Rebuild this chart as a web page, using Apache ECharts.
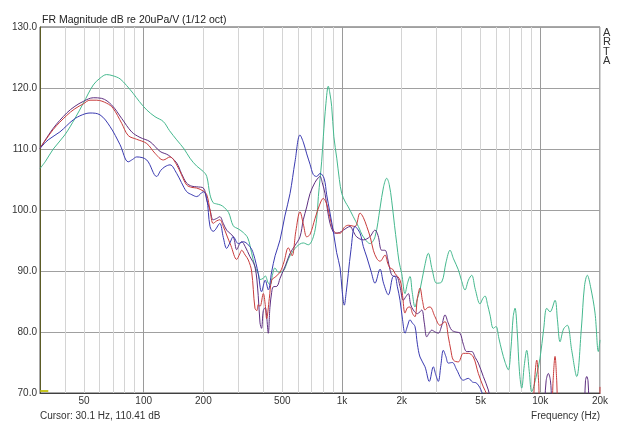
<!DOCTYPE html>
<html><head><meta charset="utf-8">
<script src="https://cdn.jsdelivr.net/npm/echarts@6/dist/echarts.min.js"></script>
<style>html,body{margin:0;padding:0;background:#fff}#c{width:640px;height:425px}</style>
</head><body><div id="c"></div>
<script>
// ---- data (frequency Hz, level dB) ----
const greenSeries = [[30,106.8],[32,108.0],[35,110.0],[40,112.3],[45,115.0],[49.6,117.5],[55.7,120.5],[60.2,121.6],[65,122.2],[70,122.0],[76,121.5],[82,120.4],[88.6,119.1],[95,117.8],[103.6,116.4],[114,115.3],[125.6,114.5],[135,113.0],[146.7,111.5],[160,110.0],[171,108.5],[185,107.2],[200,106.3],[208,105.5],[216,102.5],[224,101.2],[233,101.0],[245,100.8],[255,100.4],[268,99.6],[283,97.4],[300,96.9],[318,96.3],[335,95.4],[350,93.0],[364,90.7],[378,89.6],[386,88.6],[401,88.8],[410,89.2],[425,88.0],[435,87.8],[447,89.5],[459,90.5],[478,89.8],[506,90.0],[530,91.5],[547,92.5],[591,94.0],[638,94.6],[676,94.3],[717,95.6],[745,98.5],[760,102.2],[790,108],[805,112],[830,117.5],[853,120.3],[870,119],[887,117.0],[910,112],[941,108.5],[970,105],[997,102.7],[1040,101.3],[1076,100.5],[1140,98.9],[1209,97.3],[1281,95.6],[1385,94.5],[1467,95.6],[1555,100.3],[1620,103.8],[1681,105.2],[1730,104.2],[1781,101.5],[1840,97.5],[1888,94.5],[1940,91.5],[2000,89.6],[2078,86.3],[2140,88.0],[2203,89.1],[2260,86.5],[2334,84.1],[2400,85.5],[2474,86.9],[2600,90.5],[2725,92.9],[2850,90.2],[3003,88.0],[3183,88.2],[3350,91.5],[3505,93.4],[3650,92.0],[3861,90.2],[4000,88.5],[4172,86.9],[4340,88.5],[4509,89.3],[4700,87.0],[4967,84.6],[5130,85.5],[5262,85.9],[5420,84.5],[5577,82.8],[5795,80.6],[5979,80.9],[6180,79.0],[6387,77.0],[6650,75.0],[6897,73.8],[7100,77.0],[7300,82.5],[7457,83.9],[7650,80],[7850,73.5],[8059,70.8],[8300,74.5],[8540,77.0],[8800,73.5],[9053,70.2],[9500,72.5],[9968,75.7],[10400,80.5],[10776,83.9],[11196,83.3],[11866,85.2],[12200,82],[12578,78.4],[13100,80.5],[13686,81.1],[14400,77.0],[15263,72.7],[16100,80.5],[16700,87.5],[17262,89.3],[17900,87.5],[18879,83.1],[19620,76.8],[20000,78.7]];

const purpleSeries = [[30,110.1],[35,113.4],[40.9,115.9],[45,117],[49.6,117.8],[55.7,118.4],[61.4,118.3],[69,117.2],[77.5,115.0],[87,112.8],[95.8,111.9],[107.6,111.2],[121,109.6],[133,109.0],[146.7,107.7],[155,106.0],[164.8,104.4],[175,103.9],[185,103.8],[200,103.6],[208,101.6],[216,100.0],[224,98.4],[233,98.6],[242,98.9],[252,97.8],[262,96.7],[283,95.6],[294.5,93.5],[305,94.5],[312,94.8],[325,94.0],[343,92.4],[364,90.7],[378,86],[386,81.5],[393,80.6],[401,83.5],[410,84.0],[417,82.5],[425,79.8],[433,84.0],[442,86.5],[450,87.4],[470,87.5],[487,88.8],[520,91.0],[547,92.9],[580,94.2],[614,95.6],[638,98.4],[664,100.5],[690,102.7],[730,104.5],[760,105.3],[775,105.5],[795,104.5],[821,102.7],[845,100],[870,97.8],[900,96.5],[922,96.2],[970,96.3],[1016,96.7],[1060,97.1],[1098,97.3],[1140,96.5],[1186,95.6],[1281,95.1],[1380,95.6],[1467,96.7],[1520,95.8],[1586,93.4],[1648,93.4],[1700,92.0],[1746,90.2],[1800,89.2],[1888,89.1],[1960,87.5],[2038,85.2],[2100,85.8],[2160,86.3],[2220,84.5],[2289,83.6],[2400,83.0],[2523,83.6],[2600,81.5],[2674,79.2],[2750,79.8],[2834,80.3],[2950,80.0],[3060,79.8],[3180,81.0],[3308,82.8],[3430,81.5],[3575,80.3],[3750,80.0],[3937,79.8],[4090,78.0],[4256,76.8],[4509,76.8],[4700,75.8],[4870,74.9],[5160,72.7],[5468,70.5],[5800,67.0],[6400,64.0],[7500,62.0],[9000,62],[10300,66.0],[10700,72.0],[10977,73.2],[11250,72],[11700,66.0],[15000,62.0],[16500,66.0],[16900,72],[17144,72.7],[17400,72],[17900,66.0],[20000,62.0]];

const redSeries = [[30,110.1],[35,113.2],[40.9,115.5],[45,116.6],[49.6,117.4],[53.6,118.0],[58,118.0],[65.1,117.5],[70,116.7],[77.5,114.2],[83.6,112.2],[92,111.6],[103.6,110.9],[114,109.3],[125.6,108.2],[135.7,108.7],[146.7,107.4],[155,105.8],[164.8,104.1],[175,103.7],[185,103.6],[200,103.1],[208,102.5],[216,100.0],[224,97.8],[233,98.2],[242,98.4],[252,97.3],[262,95.9],[275,94.2],[294.5,91.9],[305,92.8],[312,93.4],[325,92.6],[337,91.8],[350,90.0],[364,83.9],[372,83.5],[378,84.5],[386,84.2],[401,86.3],[410,84.5],[417,82.2],[430,85.5],[442,88.5],[460,89.0],[487,89.8],[510,91.5],[536,93.8],[560,92.5],[585,96.5],[614,99.7],[640,97.5],[664,95.6],[690,96.0],[731,98.6],[770,100.8],[805,101.9],[830,101.3],[853,100.0],[880,98.0],[904,96.7],[940,96.2],[978,96.2],[1030,97.2],[1076,97.5],[1163,97.3],[1233,99.5],[1280,98.8],[1333,97.3],[1390,95.5],[1439,93.4],[1500,92.0],[1555,91.6],[1648,92.6],[1700,91.3],[1746,90.5],[1800,90.3],[1851,89.6],[1962,88.5],[2020,86.0],[2078,83.1],[2140,84.0],[2203,84.1],[2270,83.0],[2334,82.5],[2400,85.5],[2474,87.2],[2550,85.0],[2622,83.6],[2700,84.0],[2779,84.1],[2944,82.5],[3120,81.1],[3308,81.7],[3438,79.2],[3540,77.0],[3643,75.4],[3861,75.1],[4090,76.5],[4335,76.5],[4595,75.9],[4870,73.2],[5160,71.0],[5367,69.8],[5800,66.0],[7000,63.0],[9050,65.0],[9350,72],[9595,75.4],[9800,72],[10100,65.0],[11300,65.0],[11600,72],[11866,76.0],[12100,72],[12400,65.0],[16000,62.0],[19400,64.0],[20000,71.0]];

const blueSeries = [[30,110.1],[33,111.5],[37.8,112.8],[44.2,114.8],[49,115.6],[53.6,115.9],[60.2,115.6],[67.6,113.7],[76,110.7],[83.6,107.9],[88,108.3],[92.2,108.7],[103.6,108.2],[116.3,105.5],[122,106.5],[128,107.1],[135.7,107.4],[146.7,106.0],[155,104.5],[164.8,103.0],[175,102.5],[185,102.2],[200,103.0],[208,101.9],[216,97.3],[224,96.5],[229,96.7],[242,97.8],[252,95.5],[262,93.7],[272,94.6],[283,95.6],[300,94.5],[318,94.8],[343,94.0],[357,92.9],[378,89.6],[393,86.6],[410,88.5],[425,86.9],[442,89.9],[460,92.5],[487,95.1],[515,99],[547,102.7],[580,108],[614,112.3],[640,111],[664,109.2],[690,107.5],[717,105.8],[745,105.5],[775,106.0],[812,105.2],[837,102.5],[870,99.5],[904,96.5],[940,93],[978,90.5],[1000,87],[1027,84.4],[1050,86.5],[1076,89.6],[1110,93.5],[1163,97.3],[1233,96.2],[1281,94.0],[1333,92.3],[1400,90.0],[1467,88.0],[1555,90.3],[1620,88.0],[1713,86.1],[1815,89.1],[1851,89.1],[1900,87.5],[1962,85.2],[2020,82.0],[2078,79.8],[2140,81.0],[2203,82.0],[2260,81.5],[2334,80.9],[2400,78.0],[2474,75.9],[2622,74.3],[2756,71.9],[2888,74.3],[2970,73.0],[3060,71.9],[3150,74.5],[3243,77.0],[3340,76.0],[3438,74.9],[3600,75.0],[3789,73.8],[4090,72.1],[4335,72.4],[4550,71.8],[4780,71.6],[5065,70.2],[5400,67.0],[6000,64.0]];

// grid / tick definitions
const minorGridFreqs = [40,50,60,70,80,90,200,300,400,500,600,700,800,900,2000,3000,4000,5000,6000,7000,8000,9000,20000];
const majorGridFreqs = [100,1000,10000];
const tickFreqs = [50,100,200,500,1000,2000,5000,10000,20000];
const tickTexts = ['50','100','200','500','1k','2k','5k','10k','20k'];
const cursorPoint = [30.1, 110.41];

const FONT = "'Liberation Sans',Arial,sans-serif";
const FS = 10;

function gridItem(f, color) {
  const idx = tickFreqs.indexOf(f);
  const item = {xAxis: f, lineStyle: {color: color, width: 1, type: 'solid'}};
  if (idx >= 0) {
    item.label = {show: true, position: 'start', formatter: tickTexts[idx], color: '#333', fontSize: FS, fontFamily: FONT, distance: 3};
  } else {
    item.label = {show: false};
  }
  return item;
}
const gridLines = [];
minorGridFreqs.forEach(f => gridLines.push(gridItem(f, '#d4d4d4')));
majorGridFreqs.forEach(f => gridLines.push(gridItem(f, '#9a9a9a')));

function mkSeries(name, data, color) {
  return {name, type: 'line', data, showSymbol: false, smooth: 0.35, clip: true,
    lineStyle: {color, width: 1}, itemStyle: {color}, silent: true, animation: false, z: 5};
}

const chart = echarts.init(document.getElementById('c'), null, {renderer: 'canvas'});
chart.setOption({
  animation: false,
  backgroundColor: '#fff',
  title: {text: 'FR Magnitude dB re 20uPa/V (1/12 oct)', left: 37, top: 10,
    textStyle: {fontSize: FS + 0.5, fontWeight: 'normal', color: '#222', fontFamily: FONT}},
  grid: {left: 40, right: 40, top: 27, bottom: 32, show: true, borderColor: '#505050', borderWidth: 1, backgroundColor: 'transparent'},
  xAxis: {type: 'log', logBase: 10, min: 30, max: 20000,
    axisLine: {show: true, lineStyle: {color: '#404040', width: 1}}, axisTick: {show: false},
    axisLabel: {show: false}, splitLine: {show: false}, minorSplitLine: {show: false}},
  yAxis: {type: 'value', min: 70, max: 130, interval: 10,
    axisLine: {show: true, lineStyle: {color: '#5b5b25', width: 1}}, axisTick: {show: false},
    axisLabel: {formatter: v => v.toFixed(1), color: '#333', fontSize: FS, fontFamily: FONT, margin: 3},
    splitLine: {show: true, lineStyle: {color: '#a0a0a0', width: 1}}},
  graphic: [
    {type: 'text', left: 40, top: 411, style: {text: 'Cursor: ' + cursorPoint[0].toFixed(1) + ' Hz, ' + cursorPoint[1].toFixed(2) + ' dB', fill: '#333', font: FS + 'px ' + FONT}},
    {type: 'text', right: 40, top: 411, style: {text: 'Frequency (Hz)', fill: '#333', font: FS + 'px ' + FONT}},
    {type: 'text', left: 603, top: 27, style: {text: 'A\nR\nT\nA', fill: '#333', font: '11px ' + FONT, lineHeight: 9.5}}
  ],
  series: [
    {type: 'line', data: [], silent: true, z: 1,
      markLine: {silent: true, symbol: ['none','none'], animation: false, data: gridLines},
      markPoint: {silent: true, symbol: 'rect', symbolSize: [8, 2], symbolOffset: [4, -2], itemStyle: {color: '#c8c820'}, label: {show: false},
        data: [{coord: [cursorPoint[0], 70]}]}},
    mkSeries('green', greenSeries, '#45b88e'),
    mkSeries('purple', purpleSeries, '#5e2f80'),
    mkSeries('red', redSeries, '#c83c3c'),
    mkSeries('blue', blueSeries, '#3a3ab0')
  ]
});
</script></body></html>
